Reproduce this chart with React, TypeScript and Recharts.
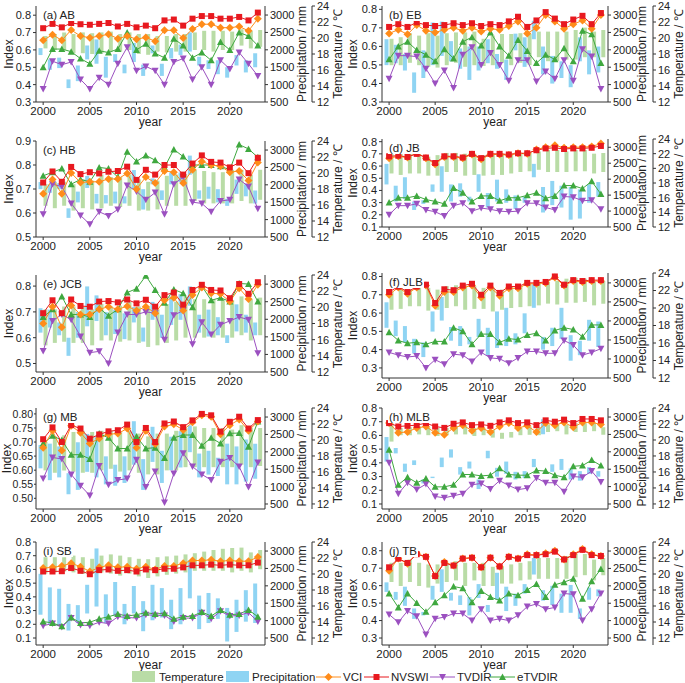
import React from 'react';
import { ComposedChart, Bar, Line, XAxis, YAxis } from 'recharts';

const years = [2000, 2001, 2002, 2003, 2004, 2005, 2006, 2007, 2008, 2009, 2010, 2011, 2012, 2013, 2014, 2015, 2016, 2017, 2018, 2019, 2020, 2021, 2022, 2023];
const precTicks = [500, 1000, 1500, 2000, 2500, 3000];
const tempTicks = [12, 14, 16, 18, 20, 22, 24];

// (a) AB
const abVCI = [0.655, 0.688, 0.655, 0.715, 0.68, 0.67, 0.68, 0.69, 0.665, 0.68, 0.662, 0.672, 0.65, 0.713, 0.713, 0.668, 0.72, 0.748, 0.748, 0.728, 0.728, 0.735, 0.71, 0.78];
const abNVSWI = [0.725, 0.75, 0.73, 0.755, 0.748, 0.745, 0.75, 0.755, 0.735, 0.75, 0.73, 0.74, 0.725, 0.77, 0.775, 0.74, 0.78, 0.795, 0.795, 0.78, 0.78, 0.79, 0.77, 0.815];
const abTVDIR = [0.375, 0.535, 0.515, 0.53, 0.43, 0.375, 0.44, 0.4, 0.52, 0.615, 0.48, 0.505, 0.48, 0.4, 0.53, 0.55, 0.43, 0.5, 0.4, 0.54, 0.49, 0.585, 0.52, 0.45];
const abETVDIR = [0.5, 0.605, 0.605, 0.59, 0.55, 0.52, 0.595, 0.585, 0.605, 0.7, 0.6, 0.635, 0.58, 0.555, 0.665, 0.625, 0.555, 0.585, 0.54, 0.645, 0.6, 0.7, 0.68, 0.625];
const abTempLo = [18.7, 18.5, 18.5, 18.1, 18.1, 18.0, 18.1, 18.3, 18.3, 18.5, 18.0, 17.9, 18.3, 18.2, 18.3, 18.3, 18.5, 18.5, 18.3, 18.5, 18.5, 19.05, 18.7, 18.9];
const abTempHi = [20.25, 20.5, 20.7, 20.5, 20.7, 20.6, 20.7, 20.8, 20.5, 20.7, 20.5, 20.5, 20.25, 20.25, 20.5, 20.5, 20.7, 20.9, 20.9, 20.9, 20.8, 21.1, 20.9, 21.0];
const abPrecLo = [1850, 1425, 1475, 900, 1100, 1725, 1600, 1200, 1650, 1325, 1650, 1250, 1900, 1250, 1750, 1850, 1950, 1550, 1450, 1300, 1200, 1550, 1350, 1500];
const abPrecHi = [2050, 1725, 1775, 1150, 1550, 2125, 2300, 1800, 1875, 1575, 2200, 1575, 2125, 1600, 2050, 2150, 2500, 1800, 1700, 1700, 1500, 1850, 1700, 1900];

// (b) EB
const ebVCI = [0.67, 0.69, 0.665, 0.715, 0.685, 0.675, 0.69, 0.7, 0.685, 0.7, 0.68, 0.695, 0.69, 0.71, 0.735, 0.67, 0.7, 0.77, 0.735, 0.695, 0.72, 0.74, 0.695, 0.77];
const ebNVSWI = [0.705, 0.72, 0.705, 0.73, 0.715, 0.71, 0.715, 0.725, 0.715, 0.725, 0.71, 0.72, 0.715, 0.735, 0.76, 0.705, 0.74, 0.785, 0.75, 0.72, 0.745, 0.765, 0.72, 0.78];
const ebTVDIR = [0.425, 0.55, 0.55, 0.545, 0.48, 0.4, 0.47, 0.375, 0.555, 0.595, 0.5, 0.565, 0.5, 0.415, 0.525, 0.525, 0.41, 0.465, 0.425, 0.525, 0.415, 0.585, 0.545, 0.37];
const ebETVDIR = [0.53, 0.6, 0.625, 0.58, 0.555, 0.52, 0.585, 0.535, 0.625, 0.65, 0.605, 0.675, 0.6, 0.55, 0.635, 0.575, 0.51, 0.555, 0.53, 0.59, 0.52, 0.685, 0.665, 0.51];
const ebTempLo = [16.6, 16.6, 16.9, 16.6, 16.4, 16.3, 16.6, 16.9, 16.4, 16.6, 16.5, 16.6, 16.9, 16.6, 16.9, 16.6, 17.6, 17.1, 17.1, 17.3, 17.3, 17.6, 17.6, 17.6];
const ebTempHi = [19.9, 20.1, 20.6, 20.3, 20.6, 20.3, 20.6, 20.7, 20.7, 20.8, 19.9, 20.3, 20.5, 20.5, 20.6, 20.5, 20.8, 20.8, 20.8, 20.8, 21.0, 21.3, 20.8, 21.0];
const ebPrecLo = [1560, 1615, 1405, 765, 1190, 1560, 1825, 1670, 1455, 1135, 1405, 1615, 1455, 1135, 1985, 1510, 2305, 1295, 1030, 1190, 925, 1670, 1295, 1350];
const ebPrecHi = [2305, 2145, 1880, 1350, 1985, 2785, 2810, 2250, 2040, 2095, 2095, 2305, 1880, 1720, 2465, 2360, 2835, 2095, 1825, 1670, 1560, 2360, 1985, 2095];

// (c) HB
const hbVCI = [0.68, 0.74, 0.68, 0.767, 0.727, 0.73, 0.73, 0.742, 0.742, 0.765, 0.7, 0.75, 0.725, 0.775, 0.77, 0.725, 0.78, 0.815, 0.8, 0.795, 0.77, 0.775, 0.735, 0.81];
const hbNVSWI = [0.727, 0.773, 0.73, 0.792, 0.762, 0.77, 0.765, 0.772, 0.775, 0.793, 0.738, 0.78, 0.76, 0.8, 0.8, 0.76, 0.806, 0.84, 0.813, 0.81, 0.79, 0.81, 0.766, 0.83];
const hbTVDIR = [0.595, 0.72, 0.71, 0.64, 0.59, 0.553, 0.605, 0.588, 0.615, 0.715, 0.69, 0.655, 0.685, 0.595, 0.72, 0.75, 0.645, 0.64, 0.605, 0.65, 0.655, 0.74, 0.71, 0.618];
const hbETVDIR = [0.755, 0.77, 0.785, 0.72, 0.74, 0.73, 0.79, 0.785, 0.75, 0.855, 0.815, 0.84, 0.82, 0.79, 0.865, 0.835, 0.8, 0.8, 0.8, 0.795, 0.78, 0.885, 0.867, 0.832];
const hbTempLo = [15.9, 15.6, 15.9, 15.3, 15.6, 15.45, 15.6, 15.9, 15.75, 15.9, 15.3, 15.3, 15.45, 15.9, 15.9, 15.9, 16.5, 16.2, 16.2, 16.2, 16.2, 16.5, 16.2, 16.65];
const hbTempHi = [18.6, 18.9, 18.9, 18.6, 19.2, 19.05, 19.8, 19.5, 19.5, 19.8, 19.2, 18.9, 19.05, 19.65, 19.8, 19.8, 20.4, 20.25, 20.1, 20.1, 20.4, 20.4, 19.8, 20.4];
const hbPrecLo = [1875, 1770, 1875, 1050, 1495, 1910, 1465, 1465, 1465, 1465, 1875, 1290, 2015, 1565, 2015, 2080, 2290, 1600, 1600, 1495, 1395, 1740, 1670, 1465];
const hbPrecHi = [2080, 2015, 2045, 1325, 1805, 2255, 1740, 1705, 1805, 1670, 2425, 1875, 2185, 1840, 2355, 2355, 2840, 1840, 1945, 1875, 1600, 2150, 2015, 1840];

// (d) JB
const jbVCI = [0.665, 0.68, 0.67, 0.71, 0.665, 0.615, 0.675, 0.675, 0.665, 0.695, 0.655, 0.695, 0.695, 0.69, 0.705, 0.7, 0.735, 0.755, 0.77, 0.75, 0.755, 0.755, 0.76, 0.785];
const jbNVSWI = [0.68, 0.685, 0.675, 0.7, 0.67, 0.625, 0.68, 0.68, 0.67, 0.7, 0.665, 0.7, 0.7, 0.695, 0.705, 0.705, 0.73, 0.745, 0.75, 0.74, 0.745, 0.745, 0.75, 0.765];
const jbTVDIR = [0.2, 0.275, 0.275, 0.29, 0.24, 0.225, 0.19, 0.275, 0.295, 0.23, 0.255, 0.245, 0.23, 0.225, 0.23, 0.295, 0.295, 0.26, 0.24, 0.35, 0.345, 0.315, 0.32, 0.245];
const jbETVDIR = [0.3, 0.34, 0.34, 0.355, 0.325, 0.31, 0.29, 0.42, 0.38, 0.31, 0.355, 0.355, 0.315, 0.34, 0.34, 0.36, 0.38, 0.335, 0.355, 0.44, 0.44, 0.415, 0.475, 0.37];
const jbTempLo = [19.3, 19.1, 19.3, 19.3, 19.0, 19.0, 19.5, 19.5, 19.0, 19.1, 19.0, 19.1, 19.1, 19.3, 19.5, 19.6, 19.8, 19.5, 19.5, 19.5, 19.6, 19.6, 19.3, 19.5];
const jbTempHi = [22.0, 22.0, 22.0, 22.0, 21.6, 21.8, 22.1, 22.1, 22.0, 22.0, 21.8, 22.0, 22.0, 22.0, 22.0, 22.1, 22.3, 22.5, 22.5, 22.3, 22.5, 22.5, 22.0, 22.1];
const jbPrecLo = [1835, 1300, 1375, 1035, 1225, 1605, 1605, 1300, 1450, 1300, 1605, 1110, 1300, 1260, 1070, 1260, 2060, 955, 1185, 1110, 730, 765, 1260, 1450];
const jbPrecHi = [2480, 1795, 2060, 1300, 1340, 1835, 2405, 1835, 1870, 1450, 2155, 1565, 1985, 1680, 1490, 1450, 2480, 1755, 1945, 1795, 1755, 1680, 1835, 1910];

// (e) JCB
const jcbVCI = [0.655, 0.72, 0.64, 0.725, 0.69, 0.69, 0.71, 0.72, 0.71, 0.722, 0.705, 0.72, 0.695, 0.745, 0.755, 0.705, 0.765, 0.795, 0.772, 0.77, 0.74, 0.792, 0.75, 0.805];
const jcbNVSWI = [0.695, 0.745, 0.695, 0.748, 0.723, 0.72, 0.74, 0.742, 0.737, 0.748, 0.733, 0.747, 0.72, 0.765, 0.775, 0.728, 0.785, 0.805, 0.785, 0.783, 0.753, 0.808, 0.77, 0.815];
const jcbTVDIR = [0.548, 0.665, 0.69, 0.67, 0.605, 0.542, 0.547, 0.5, 0.62, 0.69, 0.69, 0.7, 0.695, 0.592, 0.687, 0.705, 0.575, 0.66, 0.612, 0.65, 0.665, 0.68, 0.67, 0.54];
const jcbETVDIR = [0.68, 0.71, 0.76, 0.69, 0.69, 0.68, 0.715, 0.685, 0.71, 0.775, 0.79, 0.84, 0.785, 0.735, 0.787, 0.772, 0.718, 0.8, 0.745, 0.755, 0.74, 0.81, 0.808, 0.74];
const jcbTempLo = [15.3, 15.6, 15.75, 15.6, 15.6, 15.3, 15.9, 15.9, 15.75, 15.9, 15.6, 15.1, 15.3, 15.6, 15.9, 16.25, 16.25, 16.25, 16.25, 16.25, 16.25, 16.55, 15.9, 16.55];
const jcbTempHi = [19.75, 19.75, 20.1, 20.1, 20.1, 19.75, 20.4, 20.1, 20.2, 20.7, 20.1, 20.1, 19.75, 20.4, 20.7, 21.35, 21.0, 21.0, 21.0, 21.0, 20.9, 21.35, 21.0, 21.2];
const jcbPrecLo = [1620, 1765, 1545, 960, 1475, 1800, 1950, 1545, 1580, 1435, 1910, 1365, 1985, 1475, 1840, 1985, 2385, 1620, 1510, 1545, 1325, 1655, 1620, 1545];
const jcbPrecHi = [2315, 2275, 1910, 1475, 2205, 2935, 2680, 2205, 2275, 2170, 2350, 1765, 2495, 2130, 2645, 2715, 2935, 2130, 2275, 2060, 1545, 2425, 2130, 1910];

// (f) JLB
const jlbVCI = [0.7, 0.74, 0.705, 0.74, 0.75, 0.64, 0.715, 0.715, 0.74, 0.75, 0.685, 0.74, 0.695, 0.735, 0.735, 0.76, 0.76, 0.765, 0.795, 0.75, 0.775, 0.77, 0.775, 0.775];
const jlbNVSWI = [0.715, 0.745, 0.715, 0.745, 0.755, 0.655, 0.73, 0.725, 0.75, 0.76, 0.7, 0.75, 0.71, 0.745, 0.745, 0.765, 0.765, 0.77, 0.8, 0.755, 0.78, 0.775, 0.78, 0.78];
const jlbTVDIR = [0.385, 0.37, 0.36, 0.365, 0.3, 0.345, 0.32, 0.375, 0.37, 0.335, 0.385, 0.355, 0.35, 0.325, 0.355, 0.39, 0.39, 0.38, 0.38, 0.45, 0.425, 0.37, 0.385, 0.405];
const jlbETVDIR = [0.495, 0.45, 0.435, 0.44, 0.43, 0.445, 0.445, 0.52, 0.5, 0.43, 0.485, 0.485, 0.44, 0.46, 0.455, 0.48, 0.49, 0.45, 0.505, 0.52, 0.51, 0.47, 0.535, 0.535];
const jlbTempLo = [19.8, 19.9, 20.2, 20.2, 19.7, 19.8, 20.0, 20.2, 19.8, 19.9, 19.9, 19.6, 19.8, 20.0, 20.1, 20.2, 20.3, 20.5, 20.4, 20.6, 20.6, 20.7, 20.3, 20.5];
const jlbTempHi = [21.9, 22.3, 22.1, 22.3, 22.3, 22.1, 22.5, 22.6, 22.5, 22.5, 22.3, 22.3, 22.1, 22.4, 22.5, 22.7, 22.9, 23.0, 23.1, 23.35, 23.45, 23.35, 23.0, 23.1];
const jlbPrecLo = [1820, 1600, 1435, 1145, 1050, 1720, 2010, 1480, 1340, 1385, 1580, 1100, 1290, 1340, 1385, 1675, 2345, 1245, 1340, 1530, 955, 1100, 1480, 1315];
const jlbPrecHi = [2490, 2010, 1865, 1530, 1435, 2250, 2630, 1840, 1865, 1580, 2055, 1820, 2250, 2345, 1675, 2200, 2965, 1580, 1820, 2345, 1625, 1480, 2030, 1985];

// (g) MB
const mbVCI = [0.68, 0.74, 0.67, 0.758, 0.733, 0.695, 0.713, 0.728, 0.73, 0.748, 0.68, 0.74, 0.693, 0.755, 0.763, 0.743, 0.77, 0.795, 0.79, 0.728, 0.76, 0.78, 0.74, 0.773];
const mbNVSWI = [0.71, 0.752, 0.7, 0.76, 0.748, 0.712, 0.727, 0.738, 0.742, 0.762, 0.7, 0.75, 0.7, 0.766, 0.773, 0.753, 0.777, 0.8, 0.795, 0.737, 0.772, 0.79, 0.748, 0.778];
const mbTVDIR = [0.57, 0.645, 0.64, 0.585, 0.545, 0.51, 0.615, 0.548, 0.565, 0.57, 0.637, 0.54, 0.595, 0.485, 0.588, 0.66, 0.613, 0.585, 0.565, 0.63, 0.643, 0.613, 0.54, 0.627];
const mbETVDIR = [0.695, 0.722, 0.707, 0.655, 0.655, 0.64, 0.73, 0.715, 0.677, 0.677, 0.72, 0.677, 0.68, 0.643, 0.715, 0.725, 0.725, 0.687, 0.715, 0.695, 0.731, 0.732, 0.683, 0.773];
const mbTempLo = [16.2, 15.9, 16.2, 16.05, 15.9, 15.9, 16.2, 16.4, 16.05, 16.2, 15.9, 15.7, 15.7, 16.2, 16.2, 16.6, 16.6, 16.6, 16.6, 16.6, 16.6, 16.9, 16.6, 16.75];
const mbTempHi = [19.75, 20.45, 20.6, 21.0, 21.15, 21.0, 21.15, 21.15, 21.0, 21.15, 20.8, 20.45, 20.8, 20.8, 21.15, 21.5, 21.7, 21.5, 21.5, 21.5, 21.3, 21.85, 21.5, 21.5];
const mbPrecLo = [1525, 1185, 1265, 780, 905, 1425, 1265, 1065, 1025, 1105, 1630, 905, 1710, 1105, 1470, 1550, 1990, 1265, 1345, 1305, 1065, 1065, 1145, 1225];
const mbPrecHi = [2195, 2235, 2155, 1385, 2275, 2515, 2435, 1870, 1630, 1870, 2880, 1790, 2720, 2030, 2435, 2595, 2760, 1950, 2030, 1830, 2235, 2155, 2355, 2235];

// (h) MLB
const mlbVCI = [0.69, 0.62, 0.625, 0.655, 0.665, 0.62, 0.605, 0.655, 0.675, 0.635, 0.655, 0.625, 0.665, 0.69, 0.655, 0.67, 0.625, 0.69, 0.675, 0.695, 0.66, 0.695, 0.695, 0.68];
const mlbNVSWI = [0.69, 0.665, 0.67, 0.675, 0.69, 0.665, 0.655, 0.685, 0.695, 0.675, 0.68, 0.67, 0.695, 0.71, 0.69, 0.695, 0.675, 0.71, 0.7, 0.715, 0.69, 0.72, 0.72, 0.71];
const mlbTVDIR = [0.4, 0.175, 0.255, 0.205, 0.245, 0.155, 0.145, 0.16, 0.175, 0.24, 0.25, 0.21, 0.27, 0.235, 0.205, 0.215, 0.29, 0.255, 0.255, 0.19, 0.3, 0.295, 0.34, 0.26];
const mlbETVDIR = [0.495, 0.24, 0.295, 0.255, 0.285, 0.225, 0.225, 0.24, 0.315, 0.315, 0.305, 0.31, 0.36, 0.315, 0.31, 0.31, 0.345, 0.34, 0.31, 0.295, 0.375, 0.38, 0.42, 0.38];
const mlbTempLo = [19.8, 20.6, 20.6, 20.7, 20.6, 20.5, 20.6, 20.7, 20.7, 20.5, 20.6, 20.3, 20.15, 20.3, 20.6, 20.65, 20.6, 21.0, 21.1, 20.7, 21.0, 21.0, 21.1, 20.65];
const mlbTempHi = [22.1, 21.5, 21.6, 21.7, 21.6, 21.5, 21.5, 21.7, 21.8, 21.5, 21.5, 21.25, 20.9, 21.0, 21.5, 21.7, 21.6, 21.9, 22.0, 21.9, 22.1, 22.1, 22.1, 21.6];
const mlbPrecLo = [1720, 1955, 1425, 1620, 1090, 1245, 1560, 1835, 1345, 1520, 930, 1815, 1285, 1365, 1205, 1245, 1560, 2505, 1425, 1480, 1205, 1170, 1365, 1285];
const mlbPrecHi = [2425, 2110, 1660, 1755, 1205, 1285, 1835, 2070, 1560, 1720, 1205, 2030, 1540, 1720, 1425, 1445, 1795, 2935, 1640, 1795, 1520, 1445, 1560, 1445];

// (i) SB
const sbVCI = [0.61, 0.615, 0.625, 0.645, 0.62, 0.585, 0.615, 0.63, 0.615, 0.62, 0.605, 0.62, 0.6, 0.625, 0.625, 0.645, 0.665, 0.665, 0.67, 0.66, 0.665, 0.66, 0.66, 0.69];
const sbNVSWI = [0.585, 0.585, 0.587, 0.61, 0.59, 0.565, 0.595, 0.6, 0.59, 0.595, 0.585, 0.6, 0.595, 0.605, 0.605, 0.615, 0.63, 0.63, 0.635, 0.63, 0.635, 0.63, 0.63, 0.65];
const sbTVDIR = [0.19, 0.205, 0.18, 0.245, 0.195, 0.19, 0.215, 0.205, 0.255, 0.25, 0.245, 0.27, 0.265, 0.265, 0.22, 0.245, 0.245, 0.285, 0.24, 0.295, 0.26, 0.265, 0.285, 0.22];
const sbETVDIR = [0.22, 0.21, 0.185, 0.25, 0.21, 0.215, 0.24, 0.255, 0.275, 0.26, 0.27, 0.285, 0.275, 0.28, 0.24, 0.255, 0.26, 0.29, 0.26, 0.305, 0.27, 0.275, 0.305, 0.255];
const sbTempLo = [20.05, 20.2, 20.3, 20.2, 20.0, 20.0, 20.2, 20.05, 19.8, 20.05, 19.7, 19.5, 19.7, 19.9, 20.05, 20.2, 20.4, 20.4, 20.4, 20.4, 20.2, 20.4, 20.2, 20.6];
const sbTempHi = [22.1, 22.1, 22.1, 22.3, 22.1, 21.9, 22.3, 22.45, 22.3, 22.1, 21.9, 21.85, 22.1, 22.2, 22.3, 22.45, 22.6, 22.8, 23.0, 23.15, 23.25, 23.3, 22.7, 23.0];
const sbPrecLo = [1170, 895, 855, 715, 930, 1205, 1405, 930, 1130, 895, 1205, 695, 1010, 1090, 755, 895, 1640, 755, 930, 1050, 400, 675, 970, 930];
const sbPrecHi = [2345, 1955, 1915, 1480, 1445, 2030, 3075, 1755, 2110, 1480, 1995, 1560, 2030, 1935, 1600, 1935, 2740, 1720, 1795, 1640, 1365, 1600, 1875, 2070];

// (j) TB
const tbVCI = [0.685, 0.755, 0.725, 0.785, 0.765, 0.655, 0.735, 0.715, 0.755, 0.76, 0.705, 0.76, 0.71, 0.765, 0.755, 0.78, 0.775, 0.785, 0.8, 0.75, 0.78, 0.81, 0.78, 0.77];
const tbNVSWI = [0.705, 0.755, 0.73, 0.78, 0.765, 0.655, 0.73, 0.715, 0.755, 0.76, 0.705, 0.76, 0.71, 0.765, 0.755, 0.775, 0.775, 0.78, 0.795, 0.75, 0.775, 0.805, 0.775, 0.77];
const tbTVDIR = [0.435, 0.39, 0.455, 0.425, 0.32, 0.41, 0.42, 0.44, 0.44, 0.4, 0.465, 0.4, 0.41, 0.4, 0.43, 0.48, 0.495, 0.465, 0.475, 0.555, 0.55, 0.4, 0.465, 0.555];
const tbETVDIR = [0.555, 0.475, 0.555, 0.5, 0.45, 0.505, 0.545, 0.595, 0.585, 0.505, 0.57, 0.535, 0.515, 0.555, 0.545, 0.575, 0.61, 0.535, 0.605, 0.62, 0.64, 0.525, 0.625, 0.695];
const tbTempLo = [19.0, 18.5, 19.0, 18.5, 18.3, 18.8, 19.0, 19.2, 18.5, 19.2, 18.5, 18.5, 18.8, 18.8, 19.2, 19.3, 19.4, 19.4, 19.4, 19.4, 19.6, 19.85, 19.2, 19.85];
const tbTempHi = [21.4, 21.4, 21.8, 21.4, 21.2, 21.2, 21.4, 21.6, 21.4, 21.4, 21.4, 20.9, 20.9, 21.2, 21.4, 21.6, 22.0, 22.0, 22.0, 22.25, 22.5, 22.5, 21.8, 22.0];
const tbPrecLo = [1825, 1600, 1425, 1050, 1150, 1600, 1825, 1575, 1450, 1150, 1650, 1250, 1600, 1275, 1425, 1775, 2325, 1575, 1450, 1225, 1225, 1050, 1600, 1700];
const tbPrecHi = [2100, 1825, 1975, 1350, 1250, 2000, 2475, 1800, 1725, 1675, 2050, 1450, 2375, 1975, 1775, 2050, 2800, 1875, 2000, 1775, 2025, 1350, 1950, 1900];

const C = {
  temp: '#b9dca6',
  prec: '#8fd4f3',
  vci: '#ff8c1a',
  nvswi: '#e8191f',
  tvdir: '#9b50c0',
  etvdir: '#3fa83f',
  axis: '#333',
};
const FONT = '"Liberation Sans", Arial, sans-serif';

type Series = { vci: number[]; nvswi: number[]; tvdir: number[]; etvdir: number[]; tLo: number[]; tHi: number[]; pLo: number[]; pHi: number[] };
type Panel = Series & {
  title: string; col: 0 | 1; y: number; h: number;
  domain: [number, number]; ticks: number[]; dec: number;
  precDomain: [number, number]; tempDomain: [number, number];
};

const P0: [number, number] = [500, 3260];
const T0: [number, number] = [12, 24];

const panels: Panel[] = [
  { title: '(a) AB', col: 0, y: 6, h: 96, domain: [0.3, 0.853], ticks: [0.3, 0.4, 0.5, 0.6, 0.7, 0.8], dec: 1, precDomain: P0, tempDomain: T0,
    vci: abVCI, nvswi: abNVSWI, tvdir: abTVDIR, etvdir: abETVDIR, tLo: abTempLo, tHi: abTempHi, pLo: abPrecLo, pHi: abPrecHi },
  { title: '(b) EB', col: 1, y: 6, h: 96, domain: [0.3, 0.818], ticks: [0.3, 0.4, 0.5, 0.6, 0.7, 0.8], dec: 1, precDomain: P0, tempDomain: T0,
    vci: ebVCI, nvswi: ebNVSWI, tvdir: ebTVDIR, etvdir: ebETVDIR, tLo: ebTempLo, tHi: ebTempHi, pLo: ebPrecLo, pHi: ebPrecHi },
  { title: '(c) HB', col: 0, y: 141, h: 96, domain: [0.5, 0.9], ticks: [0.5, 0.6, 0.7, 0.8, 0.9], dec: 1, precDomain: P0, tempDomain: T0,
    vci: hbVCI, nvswi: hbNVSWI, tvdir: hbTVDIR, etvdir: hbETVDIR, tLo: hbTempLo, tHi: hbTempHi, pLo: hbPrecLo, pHi: hbPrecHi },
  { title: '(d) JB', col: 1, y: 139, h: 88, domain: [0.1, 0.822], ticks: [0.1, 0.2, 0.3, 0.4, 0.5, 0.6, 0.7, 0.8], dec: 1, precDomain: P0, tempDomain: T0,
    vci: jbVCI, nvswi: jbNVSWI, tvdir: jbTVDIR, etvdir: jbETVDIR, tLo: jbTempLo, tHi: jbTempHi, pLo: jbPrecLo, pHi: jbPrecHi },
  { title: '(e) JCB', col: 0, y: 275, h: 97, domain: [0.467, 0.843], ticks: [0.5, 0.6, 0.7, 0.8], dec: 1, precDomain: P0, tempDomain: T0,
    vci: jcbVCI, nvswi: jcbNVSWI, tvdir: jcbTVDIR, etvdir: jcbETVDIR, tLo: jcbTempLo, tHi: jcbTempHi, pLo: jcbPrecLo, pHi: jcbPrecHi },
  { title: '(f) JLB', col: 1, y: 273, h: 105, domain: [0.245, 0.819], ticks: [0.3, 0.4, 0.5, 0.6, 0.7, 0.8], dec: 1, precDomain: P0, tempDomain: T0,
    vci: jlbVCI, nvswi: jlbNVSWI, tvdir: jlbTVDIR, etvdir: jlbETVDIR, tLo: jlbTempLo, tHi: jlbTempHi, pLo: jlbPrecLo, pHi: jlbPrecHi },
  { title: '(g) MB', col: 0, y: 408, h: 101, domain: [0.462, 0.821], ticks: [0.5, 0.55, 0.6, 0.65, 0.7, 0.75, 0.8], dec: 2, precDomain: [356, 3260], tempDomain: [11.37, 24],
    vci: mbVCI, nvswi: mbNVSWI, tvdir: mbTVDIR, etvdir: mbETVDIR, tLo: mbTempLo, tHi: mbTempHi, pLo: mbPrecLo, pHi: mbPrecHi },
  { title: '(h) MLB', col: 1, y: 408, h: 101, domain: [0.0635, 0.8], ticks: [0.1, 0.2, 0.3, 0.4, 0.5, 0.6, 0.7, 0.8], dec: 1, precDomain: [356, 3260], tempDomain: [11.37, 24],
    vci: mlbVCI, nvswi: mlbNVSWI, tvdir: mlbTVDIR, etvdir: mlbETVDIR, tLo: mlbTempLo, tHi: mlbTempHi, pLo: mlbPrecLo, pHi: mlbPrecHi },
  { title: '(i) SB', col: 0, y: 542, h: 103, domain: [0.049, 0.8], ticks: [0.1, 0.2, 0.3, 0.4, 0.5, 0.6, 0.7, 0.8], dec: 1, precDomain: [299, 3260], tempDomain: [11.125, 24],
    vci: sbVCI, nvswi: sbNVSWI, tvdir: sbTVDIR, etvdir: sbETVDIR, tLo: sbTempLo, tHi: sbTempHi, pLo: sbPrecLo, pHi: sbPrecHi },
  { title: '(j) TB', col: 1, y: 542, h: 103, domain: [0.26, 0.85], ticks: [0.3, 0.4, 0.5, 0.6, 0.7, 0.8], dec: 1, precDomain: [299, 3260], tempDomain: [11.125, 24],
    vci: tbVCI, nvswi: tbNVSWI, tvdir: tbTVDIR, etvdir: tbETVDIR, tLo: tbTempLo, tHi: tbTempHi, pLo: tbPrecLo, pHi: tbPrecHi },
];

type Kind = 'square' | 'diamond' | 'down' | 'up';

function Marker({ cx, cy, kind, color }: { cx?: number; cy?: number; kind: Kind; color: string }) {
  if (cx == null || cy == null || isNaN(cx) || isNaN(cy)) return null;
  if (kind === 'square') return <rect x={cx - 3} y={cy - 3} width={6} height={6} fill={color} />;
  if (kind === 'diamond') return <path d={`M${cx},${cy - 4}L${cx + 4},${cy}L${cx},${cy + 4}L${cx - 4},${cy}Z`} fill={color} />;
  if (kind === 'down') return <path d={`M${cx - 3.5},${cy - 3}L${cx + 3.5},${cy - 3}L${cx},${cy + 3.5}Z`} fill={color} />;
  return <path d={`M${cx - 3.5},${cy + 3}L${cx + 3.5},${cy + 3}L${cx},${cy - 3.5}Z`} fill={color} />;
}

const dotFor = (kind: Kind, color: string) => (p: any) => (
  <Marker key={`${kind}-${p.index}`} cx={p.cx} cy={p.cy} kind={kind} color={color} />
);

const TOP = 6;
const XAXIS_H = 30;

function IndexPanel({ p }: { p: Panel }) {
  const rows = years.map((year, i) => ({
    year,
    vci: p.vci[i],
    nvswi: p.nvswi[i],
    tvdir: p.tvdir[i],
    etvdir: p.etvdir[i],
    temp: [p.tLo[i], p.tHi[i]],
    prec: [p.pLo[i], p.pHi[i]],
  }));
  const left = p.col === 0 ? 0 : 346;
  const plotW = p.col === 0 ? 229 : 226;
  const precW = p.col === 0 ? 47 : 45;
  const tempW = p.col === 0 ? 34 : 32;
  const width = 36 + plotW + precW + tempW;
  const height = TOP + p.h + XAXIS_H;
  const xTick = { fontSize: 11.5, fill: '#222' };
  const yTick = { fontSize: 11, fill: '#222' };
  const idxTick = { fontSize: p.dec === 2 ? 10.5 : 11, fill: '#222' };

  return (
    <div style={{ position: 'absolute', left, top: p.y - TOP, width, height }}>
      <ComposedChart width={width} height={height} data={rows} barGap={1}
        margin={{ top: TOP, right: 0, bottom: 0, left: 0 }}>
        <XAxis dataKey="year" interval={4} padding={{ left: 2.5, right: 2.5 }} height={XAXIS_H}
          stroke={C.axis} tickSize={3} tick={xTick}
          label={{ value: 'year', position: 'insideBottom', offset: 6, fontSize: 12, fill: '#222' }} />
        <XAxis xAxisId="top" dataKey="year" orientation="top" height={0} tick={false} tickLine={false}
          stroke={C.axis} padding={{ left: 2.5, right: 2.5 }} />
        <YAxis yAxisId="idx" width={36} domain={p.domain} ticks={p.ticks} allowDataOverflow interval={0}
          stroke={C.axis} tickSize={p.dec === 2 ? 2 : 3} tickMargin={p.dec === 2 ? 1 : 2} tick={idxTick}
          tickFormatter={(v: number) => v.toFixed(p.dec)}
          label={{ value: 'Index', angle: -90, position: 'center', dx: p.col === 0 ? (p.dec === 2 ? -11 : -9) : -11, fontSize: 12, fill: '#222' }} />
        <YAxis yAxisId="pr" orientation="right" width={precW} domain={p.precDomain} ticks={precTicks} allowDataOverflow interval={0}
          stroke={C.axis} tickSize={3} tick={yTick}
          label={{ value: 'Precipitation / mm', angle: -90, position: 'center', dx: p.col === 0 ? 13 : 11, fontSize: 12, fill: '#222' }} />
        <YAxis yAxisId="t" orientation="right" width={tempW} domain={p.tempDomain} ticks={tempTicks} allowDataOverflow interval={0}
          stroke={C.axis} tickSize={3} tick={yTick}
          label={{ value: 'Temperature / ℃', angle: -90, position: 'center', dx: p.col === 0 ? 9 : 10, fontSize: 12, fill: '#222' }} />
        <Bar yAxisId="pr" dataKey="prec" fill={C.prec} barSize={4} isAnimationActive={false} />
        <Bar yAxisId="t" dataKey="temp" fill={C.temp} barSize={4} isAnimationActive={false} />
        <Line yAxisId="idx" dataKey="tvdir" stroke={C.tvdir} strokeWidth={1} dot={dotFor('down', C.tvdir)} activeDot={false} isAnimationActive={false} />
        <Line yAxisId="idx" dataKey="etvdir" stroke={C.etvdir} strokeWidth={1} dot={dotFor('up', C.etvdir)} activeDot={false} isAnimationActive={false} />
        <Line yAxisId="idx" dataKey="vci" stroke={C.vci} strokeWidth={1} dot={dotFor('diamond', C.vci)} activeDot={false} isAnimationActive={false} />
        <Line yAxisId="idx" dataKey="nvswi" stroke={C.nvswi} strokeWidth={1} dot={dotFor('square', C.nvswi)} activeDot={false} isAnimationActive={false} />
      </ComposedChart>
      <div style={{ position: 'absolute', left: 42, top: TOP + 3, fontSize: 11.5, lineHeight: '12px', background: '#fff', padding: '0 1px', color: '#222' }}>
        {p.title}
      </div>
    </div>
  );
}

const legendItems: { label: string; color: string; kind: Kind }[] = [
  { label: 'VCI', color: C.vci, kind: 'diamond' },
  { label: 'NVSWI', color: C.nvswi, kind: 'square' },
  { label: 'TVDIR', color: C.tvdir, kind: 'down' },
  { label: 'eTVDIR', color: C.etvdir, kind: 'up' },
];
const legendX = [316, 364, 430, 490];

function Legend() {
  return (
    <svg width={685} height={15} style={{ position: 'absolute', left: 0, top: 668 }}>
      <rect x={132} y={3} width={23} height={11} fill={C.temp} />
      <text x={159} y={13} fontSize={11.5} fill="#222">Temperature</text>
      <rect x={226} y={3} width={23} height={11} fill={C.prec} />
      <text x={252} y={13} fontSize={11.5} fill="#222">Precipitation</text>
      {legendItems.map((it, i) => (
        <g key={it.label}>
          <line x1={legendX[i]} x2={legendX[i] + 25} y1={9} y2={9} stroke={it.color} strokeWidth={1} />
          <Marker cx={legendX[i] + 12.5} cy={9} kind={it.kind} color={it.color} />
          <text x={legendX[i] + 27} y={13} fontSize={11.5} fill="#222">{it.label}</text>
        </g>
      ))}
    </svg>
  );
}

export default function App() {
  return (
    <div style={{ position: 'absolute', left: 0, top: 0, width: 685, height: 683, background: '#fff', fontFamily: FONT }}>
      {panels.map((p) => (
        <IndexPanel key={p.title} p={p} />
      ))}
      <Legend />
    </div>
  );
}
